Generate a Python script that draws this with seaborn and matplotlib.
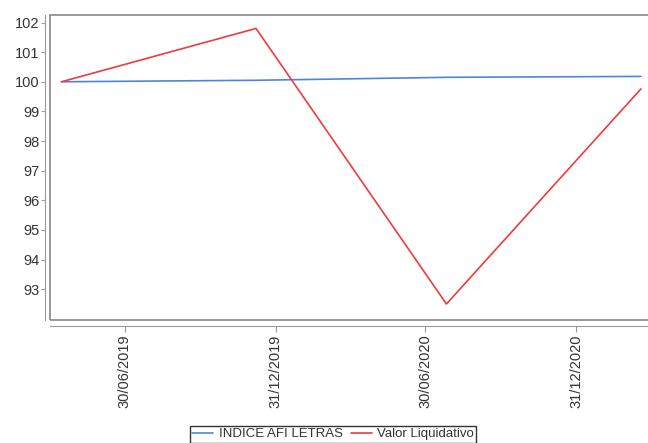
import pandas as pd
import seaborn as sns
from matplotlib import pyplot as plt
from matplotlib import dates as mdates
from matplotlib.patches import Rectangle

# data
dates = ['2019-04-14', '2019-12-07', '2020-07-26', '2021-03-20']
indice_afi = [100.0, 100.05, 100.15, 100.18]
valor_liquidativo = [100.0, 101.8, 92.5, 99.76]
series_names = ['INDICE AFI LETRAS', 'Valor Liquidativo']
tick_dates = ['2019-06-30', '2019-12-31', '2020-06-30', '2020-12-31']

df = pd.DataFrame({
    'Fecha': pd.to_datetime(dates * 2),
    'Valor': indice_afi + valor_liquidativo,
    'Serie': [series_names[0]] * 4 + [series_names[1]] * 4,
})

sns.set_style('white')
plt.rcParams['font.family'] = ['Liberation Sans', 'DejaVu Sans']

fig = plt.figure(figsize=(6.48, 4.43), dpi=100)
ax = fig.add_axes([50 / 648, 1 - 320 / 443, 600 / 648, 305.5 / 443])

sns.lineplot(data=df, x='Fecha', y='Valor', hue='Serie',
             palette=['#4a86e0', '#ee3b3b'], linewidth=1.2, ax=ax)

ax.set_xlim(pd.Timestamp('2019-03-31'), pd.Timestamp('2021-03-31'))
ax.set_ylim(91.96, 102.27)
ax.set_yticks(range(93, 103))
ax.set_xticks(pd.to_datetime(tick_dates))
ax.xaxis.set_major_formatter(mdates.DateFormatter('%d/%m/%Y'))
ax.set_xlabel('')
ax.set_ylabel('')

# axis lines sit a little outside the plot box
for side in ['top', 'right']:
    ax.spines[side].set_visible(False)
ax.spines['left'].set_position(('outward', 3.6))
ax.spines['bottom'].set_position(('outward', 4.3))
for side in ['left', 'bottom']:
    ax.spines[side].set_color('#999999')
    ax.spines[side].set_linewidth(0.8)
ax.add_patch(Rectangle((0, 0), 1, 1, transform=ax.transAxes, fill=False,
                       edgecolor='#888888', linewidth=1.2, clip_on=False))

ax.tick_params(axis='y', which='major', length=3, color='#999999',
               labelsize=10.5, labelcolor='#333333', pad=1, left=True)
ax.tick_params(axis='x', which='major', length=4, color='#999999',
               labelsize=10.5, labelcolor='#333333', pad=2, bottom=True,
               labelrotation=90)

handles, labels = ax.get_legend_handles_labels()
ax.legend(handles, labels, loc='upper center', ncol=2,
          bbox_to_anchor=(333 / 648, 1 - 419 / 443), bbox_transform=fig.transFigure,
          frameon=True, fancybox=False, edgecolor='black', fontsize=9.5,
          handlelength=1.6, handletextpad=0.4, columnspacing=0.6,
          borderpad=0.2, labelcolor='#333333')
ax.get_legend().get_frame().set_linewidth(1.0)

plt.savefig('out.png', dpi=100)
